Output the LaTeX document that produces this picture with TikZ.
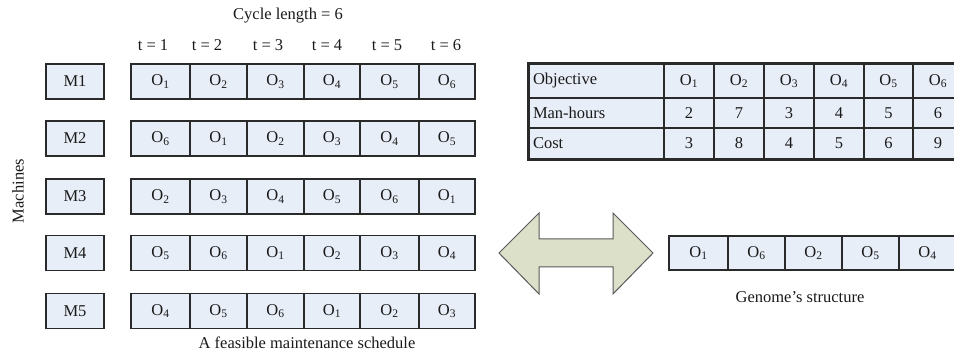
\documentclass[tikz,border=0pt]{standalone}
\usepackage{fontspec}
\setmainfont{Liberation Serif}
\definecolor{cellfill}{HTML}{E8EEF8}
\definecolor{arrowfill}{HTML}{DDE0C9}
\definecolor{linecol}{HTML}{2A2A2A}
\definecolor{txtcol}{HTML}{1A1A1A}
\begin{document}
\begin{tikzpicture}[x=1pt,y=-1pt,
  font=\fontsize{16.5}{19}\selectfont, text=txtcol,
  cell/.style={draw=linecol, fill=cellfill, line width=1.2pt, inner sep=0pt, minimum height=35pt},
  tcell/.style={draw=linecol, fill=cellfill, line width=1.6pt, inner sep=0pt},
  lbl/.style={inner sep=0pt}]
\useasboundingbox (0,0) rectangle (954,352);
\clip (0,0) rectangle (954,352);

% titles
\node[lbl] (cyc) at (288,16) {Cycle length = 6};
\foreach \t/\x in {1/153,2/207,3/268,4/327,5/387,6/446}
  \node[lbl] (t\t) at (\x,45) {t = \t};
\node[lbl, rotate=90] (mach) at (18,191) {Machines};

% machines
\foreach \m/\y in {1/81.5,2/138.5,3/196.5,4/253,5/311}
  \node[cell, minimum width=58pt] (m\m) at (75,\y) {M\m};

% schedule cells
\foreach \c/\xa/\xb/\oa/\ob/\oc/\od/\oe in {
  1/131/190/1/6/2/5/4, 2/190/247/2/1/3/6/5, 3/247/304/3/2/4/1/6,
  4/304/360/4/3/5/2/1, 5/360/419/5/4/6/3/2, 6/419/475/6/5/1/4/3}{
  \node[cell, minimum width={\xb-\xa}] (s1-\c) at ({(\xa+\xb)/2},81.5) {O\textsubscript{\oa}};
  \node[cell, minimum width={\xb-\xa}] (s2-\c) at ({(\xa+\xb)/2},138.5) {O\textsubscript{\ob}};
  \node[cell, minimum width={\xb-\xa}] (s3-\c) at ({(\xa+\xb)/2},196.5) {O\textsubscript{\oc}};
  \node[cell, minimum width={\xb-\xa}] (s4-\c) at ({(\xa+\xb)/2},253) {O\textsubscript{\od}};
  \node[cell, minimum width={\xb-\xa}] (s5-\c) at ({(\xa+\xb)/2},311) {O\textsubscript{\oe}};
}
\node[lbl] (schedcap) at (307,343) {A feasible maintenance schedule};

% objective table
\node[tcell, minimum width=135pt, minimum height=34pt, text width=127pt, align=left] (tab-1-0) at (596.5,81) {Objective};
\node[tcell, minimum width=135pt, minimum height=30pt, text width=127pt, align=left] (tab-2-0) at (596.5,113) {Man-hours};
\node[tcell, minimum width=135pt, minimum height=31pt, text width=127pt, align=left] (tab-3-0) at (596.5,143.5) {Cost};
\foreach \c/\xa/\xb/\mh/\co in {1/664/714/2/3, 2/714/764/7/8, 3/764/814/3/4,
  4/814/864/4/5, 5/864/913/5/6, 6/913/963/6/9}{
  \node[tcell, minimum width={\xb-\xa}, minimum height=34pt] (tab-1-\c) at ({(\xa+\xb)/2},81) {O\textsubscript{\c}};
  \node[tcell, minimum width={\xb-\xa}, minimum height=30pt] (tab-2-\c) at ({(\xa+\xb)/2},113) {\mh};
  \node[tcell, minimum width={\xb-\xa}, minimum height=31pt] (tab-3-\c) at ({(\xa+\xb)/2},143.5) {\co};
}
\draw[linecol, line width=2.4pt] (tab-1-0.north west) rectangle (tab-3-6.south east);

% double arrow
\draw[fill=arrowfill, draw=black!65, line width=1pt]
  (499,253) -- (539,213) -- (539,239) -- (613,239) -- (613,213) -- (653,253)
  -- (613,294) -- (613,267) -- (539,267) -- (539,294) -- cycle;

% genome
\foreach \c/\xa/\xb/\o in {1/669/728/1, 2/728/785/6, 3/785/842/2, 4/842/899/5, 5/899/956/4}
  \node[cell, minimum width={\xb-\xa}, minimum height=34pt] (g\c) at ({(\xa+\xb)/2},253) {O\textsubscript{\o}};
\node[lbl] (gencap) at (800,297) {Genome’s structure};
\end{tikzpicture}
\end{document}
